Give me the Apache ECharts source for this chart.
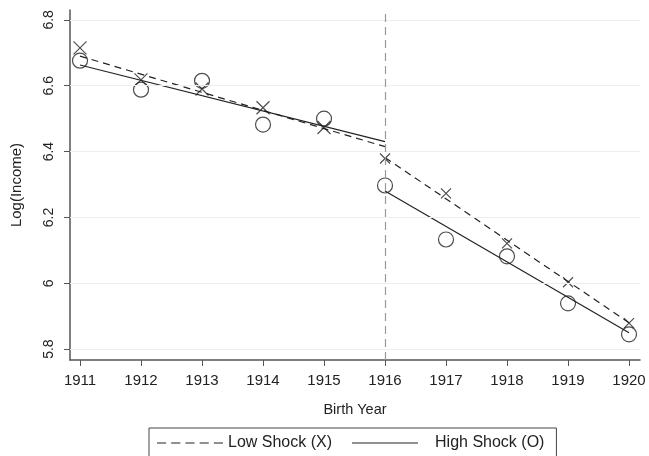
<!DOCTYPE html>
<html>
<head>
<meta charset="utf-8">
<script src="https://cdn.jsdelivr.net/npm/echarts@6/dist/echarts.min.js"></script>
<style>
  html, body { margin: 0; padding: 0; background: #fff; }
  #main { width: 649px; height: 456px; }
</style>
</head>
<body>
<div id="main"></div>
<script>
// birth cohorts
var years = [1911, 1912, 1913, 1914, 1915, 1916, 1917, 1918, 1919, 1920];
// cohort means
var lowShock = [6.715, 6.618, 6.590, 6.533, 6.473, 6.379, 6.273, 6.121, 6.003, 5.879];
var highShock = [6.676, 6.588, 6.615, 6.482, 6.500, 6.297, 6.133, 6.082, 5.939, 5.845];
// fitted lines, before and after 1916
var lowFitPre = [[1911, 6.690], [1916, 6.415]];
var lowFitPost = [[1916, 6.382], [1920, 5.880]];
var highFitPre = [[1911, 6.663], [1916, 6.430]];
var highFitPost = [[1916, 6.280], [1920, 5.850]];
var yTicks = [5.8, 6, 6.2, 6.4, 6.6, 6.8];
var cutoffYear = 1916;

var font = 'Liberation Sans, Arial, Helvetica, sans-serif';
var ink = '#222';

// legend keys drawn as paths: a dashed and a solid stroke
var dashIcon = 'path://M0,0h9v1.2h-9zM14,0h9v1.2h-9zM28,0h9v1.2h-9zM42,0h9v1.2h-9zM56,0h9v1.2h-9z';
var solidIcon = 'path://M0,0h65v1.2h-65z';

var lowPts = years.map(function (y, i) { return [y, lowShock[i]]; });
var highPts = years.map(function (y, i) { return [y, highShock[i]]; });

var chart = echarts.init(document.getElementById('main'));
chart.setOption({
  animation: false,
  backgroundColor: '#fff',
  grid: { left: 70, right: 9, top: 10, bottom: 96 },
  legend: {
    data: [
      { name: 'Low Shock (X)', icon: dashIcon, itemStyle: { color: ink }, textStyle: { padding: [0, 0, 0, 0] } },
      { name: 'High Shock (O)', icon: solidIcon, itemStyle: { color: ink }, textStyle: { padding: [0, 0, 0, 12] } }
    ],
    left: 149,
    top: 428,
    padding: [7, 12, 20, 8],
    borderColor: '#444',
    borderWidth: 1,
    itemWidth: 66,
    itemHeight: 1.6,
    itemGap: 20,
    textStyle: { fontFamily: font, fontSize: 16, color: ink }
  },
  xAxis: {
    type: 'value',
    min: 1910.836,
    max: 1920.18,
    name: 'Birth Year',
    nameLocation: 'middle',
    nameGap: 42,
    nameTextStyle: { fontFamily: font, fontSize: 14.5, color: ink },
    axisLine: { lineStyle: { color: '#555', width: 1.5 } },
    axisTick: { customValues: years, length: 6, lineStyle: { color: '#555' } },
    axisLabel: {
      customValues: years, margin: 13, fontFamily: font, fontSize: 15, color: ink,
      formatter: function (v) { return String(v); }
    },
    splitLine: { show: false }
  },
  yAxis: {
    type: 'value',
    min: 5.767,
    max: 6.83,
    name: 'Log(Income)',
    nameLocation: 'middle',
    nameGap: 46,
    nameRotate: 90,
    nameTextStyle: { fontFamily: font, fontSize: 15, color: ink },
    axisLine: { show: true, lineStyle: { color: '#555', width: 1.5 } },
    axisTick: { show: true, customValues: yTicks, length: 6, lineStyle: { color: '#555' } },
    axisLabel: {
      customValues: yTicks, rotate: 90, margin: 14,
      fontFamily: font, fontSize: 14, color: ink,
      formatter: function (v) { return String(v); }
    },
    splitLine: { show: false }
  },
  series: [
    {
      // grid lines and the 1916 cutoff
      type: 'line',
      data: [],
      silent: true,
      markLine: {
        symbol: 'none',
        silent: true,
        label: { show: false },
        data: yTicks.map(function (t) {
          return { yAxis: t, lineStyle: { color: '#eeeeee', width: 1, type: 'solid' } };
        }).concat([{ xAxis: cutoffYear, lineStyle: { color: '#999', width: 1.2, type: [8, 5] } }])
      }
    },
    {
      name: 'Low Shock (X)', type: 'line', data: lowFitPre, symbol: 'none',
      lineStyle: { color: ink, width: 1.2, type: [7, 5] }, itemStyle: { color: ink }
    },
    {
      name: 'Low Shock (X)', type: 'line', data: lowFitPost, symbol: 'none',
      lineStyle: { color: ink, width: 1.2, type: [7, 5] }, itemStyle: { color: ink }
    },
    {
      name: 'High Shock (O)', type: 'line', data: highFitPre, symbol: 'none',
      lineStyle: { color: ink, width: 1.2 }, itemStyle: { color: ink }
    },
    {
      name: 'High Shock (O)', type: 'line', data: highFitPost, symbol: 'none',
      lineStyle: { color: ink, width: 1.2 }, itemStyle: { color: ink }
    },
    {
      name: 'low pts', type: 'scatter', data: lowPts,
      symbol: 'path://M0,0L10,10M10,0L0,10',
      symbolSize: function (v) { return v[0] < cutoffYear ? 13 : 10; },
      itemStyle: { color: 'transparent', borderColor: ink, borderWidth: 1.2 }
    },
    {
      name: 'high pts', type: 'scatter', data: highPts,
      symbol: 'circle', symbolSize: 15,
      itemStyle: { color: 'transparent', borderColor: ink, borderWidth: 1.2 }
    }
  ]
});
</script>
</body>
</html>
